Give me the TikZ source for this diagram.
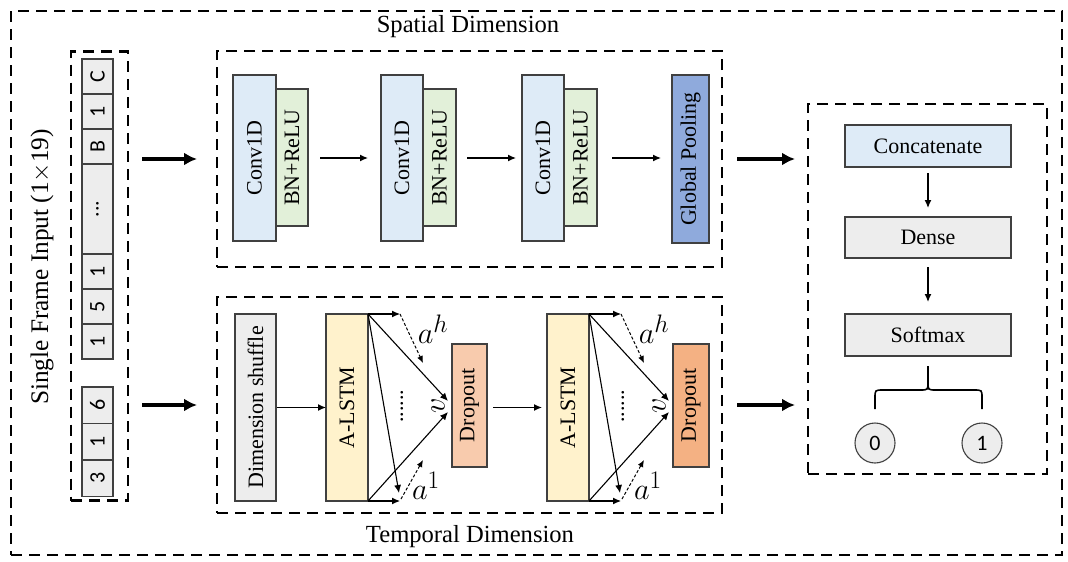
\documentclass[tikz,border=0pt]{standalone}
\usepackage{fontspec}
\setmainfont{Liberation Serif}
\newfontfamily\calfont{Carlito}
\usetikzlibrary{arrows.meta}
\definecolor{convblue}{HTML}{DEEBF7}
\definecolor{bngreen}{HTML}{E2F0D9}
\definecolor{poolblue}{HTML}{8FAADC}
\definecolor{lgray}{HTML}{EDEDED}
\definecolor{lstmy}{HTML}{FFF2CC}
\definecolor{dropa}{HTML}{F8CBAD}
\definecolor{dropb}{HTML}{F4B183}
\newcommand{\mlb}[1]{\scalebox{1.22}{$#1$}}
\begin{document}
\begin{tikzpicture}[x=1pt,y=-1pt,
  box/.style={draw=black!75, line width=1.1pt, inner sep=0pt, outer sep=0pt, font=\fontsize{22}{26}\selectfont},
  cell/.style={box, fill=lgray, minimum width=31pt, font=\calfont\fontsize{22}{26}\selectfont},
  dbox/.style={draw, line width=2.8pt, dash pattern=on 11pt off 7pt, inner sep=0pt, outer sep=0pt},
  arr/.style={-{Latex[length=8pt,width=7pt]}, line width=1.3pt},
  bigarr/.style={-{Latex[length=13pt,width=13pt]}, line width=4pt},
  darr/.style={-{Latex[length=7pt,width=6pt]}, line width=1pt, dash pattern=on 3pt off 2pt},
  title/.style={font=\fontsize{24.6}{28}\selectfont, inner sep=0pt},
  mlab/.style={font=\fontsize{24.88}{28}\selectfont, inner sep=0pt}]
\useasboundingbox (0,0) rectangle (1068,562);
% outer frame
\node[dbox, minimum width=1051pt, minimum height=544pt] (outer) at (536.5,283) {};
\node[title] (ts) at (468,27) {Spatial Dimension};
\node[title] (tt) at (470,537) {Temporal Dimension};
% input
\node[dbox, minimum width=57pt, minimum height=449pt] (inbox) at (99.5,276) {};
\node[title, font=\fontsize{25.3}{28}\selectfont, rotate=90] (inlab) at (42,267) {Single Frame Input (1$\times$19)};
\node[cell, minimum height=35pt] (k1) at (97.5,76.5) {\rotatebox{90}{C}};
\node[cell, minimum height=35pt] (k2) at (97.5,111.5) {\rotatebox{90}{1}};
\node[cell, minimum height=35pt] (k3) at (97.5,146.5) {\rotatebox{90}{B}};
\node[cell, minimum height=90pt] (k4) at (97.5,209) {\rotatebox{90}{...}};
\node[cell, minimum height=35pt] (k5) at (97.5,271.5) {\rotatebox{90}{1}};
\node[cell, minimum height=35pt] (k6) at (97.5,306.5) {\rotatebox{90}{5}};
\node[cell, minimum height=35pt] (k7) at (97.5,341.5) {\rotatebox{90}{1}};
\node[cell, minimum height=36.5pt] (m1) at (97.5,405.25) {\rotatebox{90}{6}};
\node[cell, minimum height=36.5pt] (m2) at (97.5,441.75) {\rotatebox{90}{1}};
\node[cell, minimum height=36.5pt] (m3) at (97.5,478.25) {\rotatebox{90}{3}};
% spatial
\node[dbox, minimum width=505pt, minimum height=216pt] (spbox) at (469.5,159) {};
\node[box, fill=bngreen, minimum width=32pt, minimum height=137pt] (bn1) at (292,157.5) {\rotatebox{90}{BN+ReLU}};
\node[box, fill=convblue, minimum width=43pt, minimum height=166pt] (cv1) at (254.5,158) {\rotatebox{90}{Conv1D}};
\node[box, fill=bngreen, minimum width=33pt, minimum height=137pt] (bn2) at (439.5,157.5) {\rotatebox{90}{BN+ReLU}};
\node[box, fill=convblue, minimum width=42pt, minimum height=166pt] (cv2) at (402,158) {\rotatebox{90}{Conv1D}};
\node[box, fill=bngreen, minimum width=33pt, minimum height=137pt] (bn3) at (580.5,157.5) {\rotatebox{90}{BN+ReLU}};
\node[box, fill=convblue, minimum width=42pt, minimum height=166pt] (cv3) at (543,158) {\rotatebox{90}{Conv1D}};
\node[box, fill=poolblue, minimum width=37pt, minimum height=168pt] (gp) at (690.5,159) {\rotatebox{90}{Global Pooling}};
\draw[arr, shorten <=12pt, shorten >=13pt] (bn1.east |- cv1) -- (cv2.west);
\draw[arr, shorten <=11pt, shorten >=6pt] (bn2.east |- cv2) -- (cv3.west);
\draw[arr, shorten <=15pt, shorten >=11pt] (bn3.east |- cv3) -- (gp.west |- cv3);
% temporal
\node[dbox, minimum width=505pt, minimum height=216pt] (tpbox) at (469.5,405) {};
\node[box, fill=lgray, minimum width=41pt, minimum height=187pt] (ds) at (255.5,407.5) {\rotatebox{90}{Dimension shuffle}};
\node[box, fill=lstmy, minimum width=42pt, minimum height=187pt] (l1) at (347,407.5) {\rotatebox{90}{A-LSTM}};
\node[box, fill=dropa, minimum width=35pt, minimum height=123pt] (dr1) at (469.5,405.5) {\rotatebox{90}{Dropout}};
\node[box, fill=lstmy, minimum width=42pt, minimum height=187pt] (l2) at (568,407.5) {\rotatebox{90}{A-LSTM}};
\node[box, fill=dropb, minimum width=36pt, minimum height=123pt] (dr2) at (691,405.5) {\rotatebox{90}{Dropout}};
\draw[arr, shorten <=1pt] (ds.east) -- (l1.west);
\draw[arr, shorten <=6pt, shorten >=5pt] (dr1.east |- l2) -- (l2.west);
% attention block 1
\coordinate (h1) at (400,314);
\coordinate (ah1) at (423,363);
\coordinate (vt1) at (448,401);
\coordinate (vb1) at (448,412);
\coordinate (d1) at (399,493);
\coordinate (b1) at (400,501);
\coordinate (b1s) at (401,499);
\coordinate (a11) at (423,460);
\draw[arr, line width=1.1pt] (l1.north east) -- (h1);
\draw[darr] (h1) -- (ah1);
\draw[arr, line width=1.1pt] (l1.north east) -- (vt1);
\draw[arr, line width=1.1pt] (l1.north east) -- (d1);
\draw[arr, line width=1.1pt] (l1.south east) -- (b1);
\draw[darr] (b1s) -- (a11);
\draw[arr, line width=1.1pt] (l1.south east) -- (vb1);
\node[mlab] (lah1) at (433,329) {\mlb{a^h}};
\node[mlab] (la11) at (426,486) {\mlb{a^1}};
\node[mlab, rotate=90] (lv1) at (438,406) {\mlb{v}};
\node[font=\fontsize{22}{26}\selectfont, rotate=90, inner sep=0pt] (dots1) at (402,406) {......};
% attention block 2
\coordinate (h2) at (621,314);
\coordinate (ah2) at (644,363);
\coordinate (vt2) at (669,401);
\coordinate (vb2) at (669,412);
\coordinate (d2) at (620,493);
\coordinate (b2) at (621,501);
\coordinate (b2s) at (622,499);
\coordinate (a12) at (644,460);
\draw[arr, line width=1.1pt] (l2.north east) -- (h2);
\draw[darr] (h2) -- (ah2);
\draw[arr, line width=1.1pt] (l2.north east) -- (vt2);
\draw[arr, line width=1.1pt] (l2.north east) -- (d2);
\draw[arr, line width=1.1pt] (l2.south east) -- (b2);
\draw[darr] (b2s) -- (a12);
\draw[arr, line width=1.1pt] (l2.south east) -- (vb2);
\node[mlab] (lah2) at (654,329) {\mlb{a^h}};
\node[mlab] (la12) at (648,486) {\mlb{a^1}};
\node[mlab, rotate=90] (lv2) at (659,406) {\mlb{v}};
\node[font=\fontsize{22}{26}\selectfont, rotate=90, inner sep=0pt] (dots2) at (623,406) {......};
% right panel
\node[dbox, minimum width=239pt, minimum height=370pt] (rbox) at (927.5,289) {};
\node[box, fill=convblue, minimum width=166pt, minimum height=42pt] (cat) at (928,146) {Concatenate};
\node[box, fill=lgray, minimum width=166pt, minimum height=41pt] (dense) at (928,237.5) {Dense};
\node[box, fill=lgray, minimum width=166pt, minimum height=42pt] (soft) at (928,335) {Softmax};
\draw[arr, shorten <=6pt, shorten >=9pt] (cat.south) -- (dense.north);
\draw[arr, shorten <=9pt, shorten >=12pt] (dense.south) -- (soft.north);
\node[box, circle, fill=lgray, minimum size=40pt, font=\calfont\fontsize{22}{26}\selectfont] (o0) at (875,443) {0};
\node[box, circle, fill=lgray, minimum size=40pt, font=\calfont\fontsize{22}{26}\selectfont] (o1) at (982,443) {1};
\coordinate (tip) at (928,366);
\draw[line width=1.6pt] ([yshift=14pt]o0.north) -- (875,398) .. controls (875,390) .. (883,390) -- (920,390) .. controls (928,390) .. (928,382) -- (tip);
\draw[line width=1.6pt] ([yshift=14pt]o1.north) -- (982,398) .. controls (982,390) .. (974,390) -- (936,390) .. controls (928,390) .. (928,382);
% big arrows
\draw[bigarr, shorten <=14pt, shorten >=20pt] (inbox.east |- spbox) -- (spbox.west);
\draw[bigarr, shorten <=14pt, shorten >=20pt] (inbox.east |- tpbox) -- (tpbox.west);
\draw[bigarr, shorten <=15pt, shorten >=13pt] (spbox.east) -- (rbox.west |- spbox);
\draw[bigarr, shorten <=15pt, shorten >=13pt] (tpbox.east) -- (rbox.west |- tpbox);
\end{tikzpicture}
\end{document}
